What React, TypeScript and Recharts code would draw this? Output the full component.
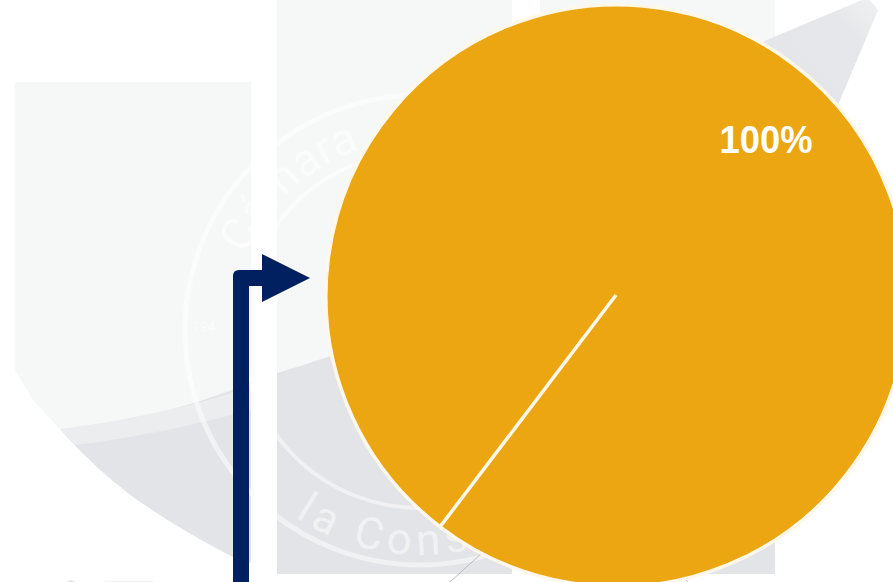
import { PieChart, Pie, Cell } from "recharts";

const sliceNames = ["Total"];
const sliceValues = [100];
const sliceColors = ["#eba612"];

const pieData = sliceNames.map((name, i) => ({ name, value: sliceValues[i] }));

const LIGHT = "#f6f7f7";
const DARK = "#e3e4e7";
const NAVY = "#002060";

// faint shield logo behind the chart
function Watermark() {
  return (
    <svg
      width={893}
      height={582}
      style={{ position: "absolute", left: 0, top: 0 }}
    >
      <defs>
        <clipPath id="shield">
          <path d="M15 82H251V563L233 557Q180 530 133 497Q95 468 67 437L33 400L15 370Z" />
          <rect x={277} y={0} width={235} height={574} />
          <rect x={540} y={0} width={235} height={574} />
        </clipPath>
        <path id="topArc" d="M246 255A190 190 0 0 1 520 168" />
        <path id="bottomArc" d="M295 517A225 225 0 0 0 620 433" />
        <linearGradient id="wing" x1="0" y1="1" x2="1" y2="0">
          <stop offset="0" stopColor="#e4e5e8" />
          <stop offset="0.75" stopColor="#e6e7ea" />
          <stop offset="1" stopColor="#f0f1f2" />
        </linearGradient>
      </defs>
      <g clipPath="url(#shield)">
        <rect x={0} y={0} width={893} height={582} fill={LIGHT} />
        <path
          d="M45 432C130 422 200 405 251 382L277 373C420 330 560 270 775 120V582H0V432Z"
          fill={DARK}
        />
        <path
          d="M60 429C130 420 200 405 255 385L266 405C200 425 130 438 75 445Z"
          fill="#ecedef"
        />
        <g opacity={0.5} fill="#ffffff">
          <circle cx={420} cy={330} r={235} fill="none" stroke="#ffffff" strokeWidth={5} />
          <circle cx={420} cy={330} r={178} fill="none" stroke="#ffffff" strokeWidth={4} />
          <text fontFamily="Roboto" fontSize={46}>
            <textPath href="#topArc">Cámara</textPath>
          </text>
          <text fontFamily="Roboto" fontSize={44} letterSpacing={6}>
            <textPath href="#bottomArc">la Cons</textPath>
          </text>
          <text x={192} y={332} fontFamily="Roboto" fontSize={14}>
            194
          </text>
        </g>
      </g>
      <path d="M755 45L862 0H870L878 10L833 117Z" fill="url(#wing)" />
      <path d="M482 553L450 582M684 578L688 582" stroke="#b9bbbf" strokeWidth={1} />
      <path d="M67 582Q71 579 75 582Z" fill="#d9dadc" />
      <path d="M105 581.5H154" stroke="#f0f0f0" strokeWidth={1} />
    </svg>
  );
}

function BentArrow() {
  return (
    <svg
      width={893}
      height={582}
      style={{ position: "absolute", left: 0, top: 0 }}
    >
      <path
        d="M233 582V276Q233 270 239 270H262V254L310 278L262 302V286H249V582Z"
        fill={NAVY}
      />
    </svg>
  );
}

function renderPercent({ cx, cy, percent }: any) {
  return (
    <text
      x={cx + 150}
      y={cy - 156}
      fill="#ffffff"
      textAnchor="middle"
      dominantBaseline="central"
      textLength={93}
      lengthAdjust="spacingAndGlyphs"
      style={{
        fontFamily: "'Liberation Sans', Arial, sans-serif",
        fontWeight: 700,
        fontSize: 39,
      }}
    >
      {`${Math.round(percent * 100)}%`}
    </text>
  );
}

export default function App() {
  return (
    <div
      style={{
        position: "fixed",
        left: 0,
        top: 0,
        width: 893,
        height: 582,
        overflow: "hidden",
        background: "#ffffff",
      }}
    >
      <Watermark />
      <BentArrow />
      <div style={{ position: "absolute", left: 0, top: 0 }}>
        <PieChart
          width={893}
          height={582}
          margin={{ top: 0, right: 0, bottom: 0, left: 0 }}
        >
          <Pie
            data={pieData}
            dataKey="value"
            nameKey="name"
            cx={616}
            cy={295}
            innerRadius={0}
            outerRadius={291}
            startAngle={232.8}
            endAngle={-127.2}
            stroke="#fff8ea"
            strokeWidth={3.5}
            label={renderPercent}
            labelLine={false}
            isAnimationActive={false}
          >
            {pieData.map((d, i) => (
              <Cell key={d.name} fill={sliceColors[i]} />
            ))}
          </Pie>
        </PieChart>
      </div>
    </div>
  );
}
